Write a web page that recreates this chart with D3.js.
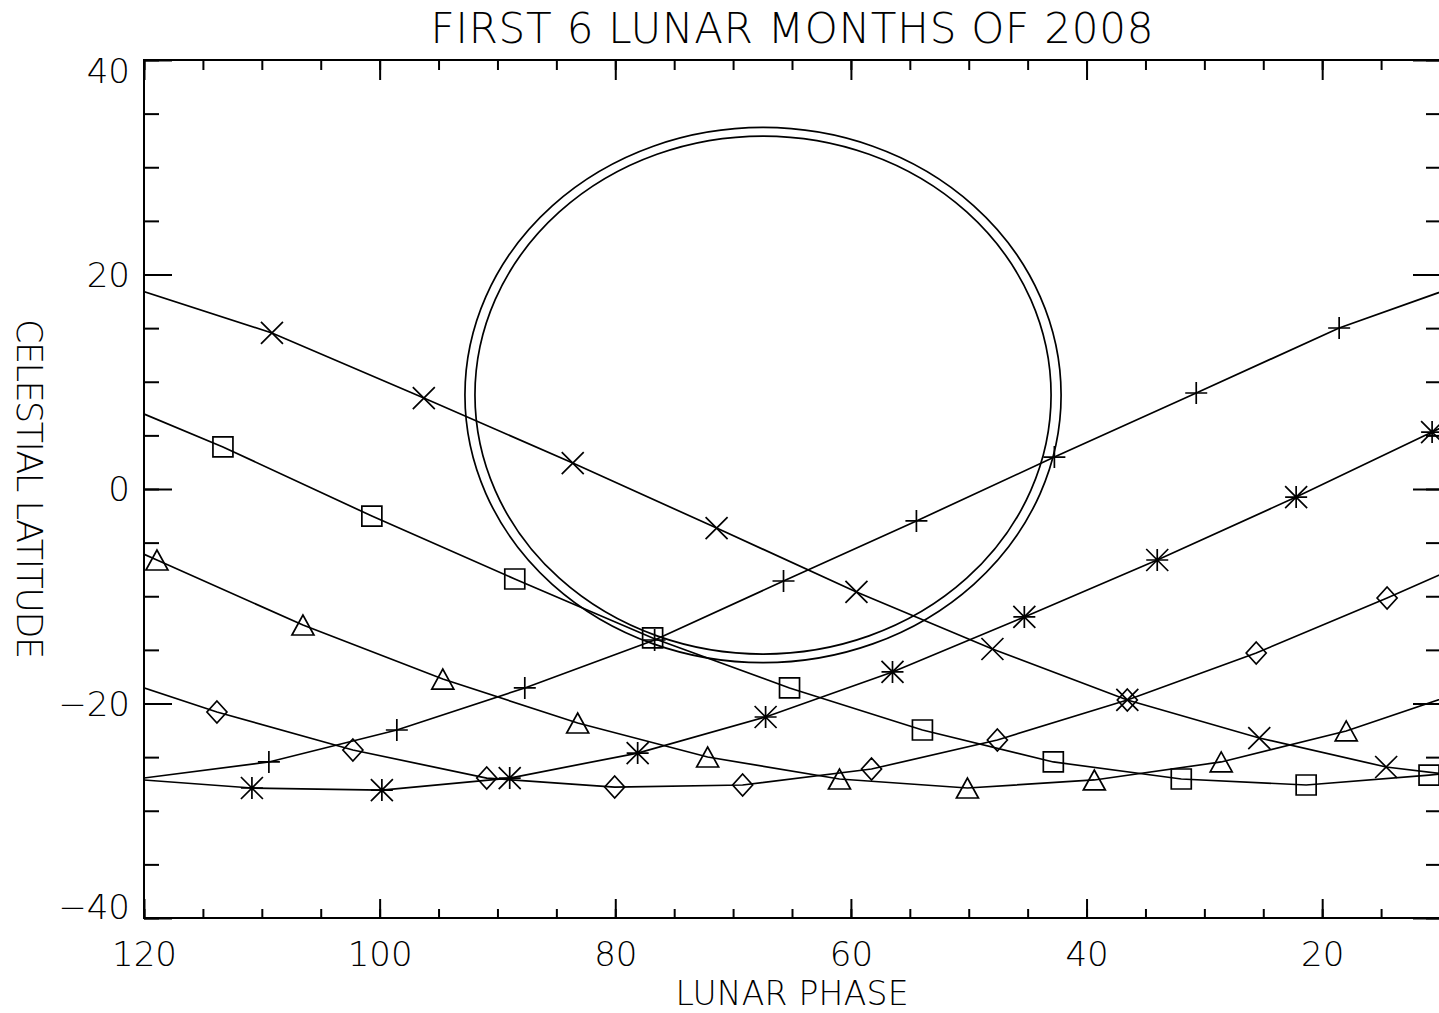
<!DOCTYPE html>
<html>
<head>
<meta charset="utf-8">
<script src="https://cdn.jsdelivr.net/npm/d3@7"></script>
<style>
  body { margin: 0; background: #fff; }
  svg text { font-family: "DejaVu Sans", sans-serif; font-weight: 200; fill: #000; }
</style>
</head>
<body>
<svg id="lunarPlot" width="1439" height="1013"></svg>
<script>
// six lunar months, one marker symbol each
// first and last points of each month fall just outside the axis range
const phaseTimes = [122.1, 109.14, 96.25, 83.61, 71.4, 59.53, 47.99, 36.54, 25.34, 14.57, 2.5];
const latTimes   = [19.14, 14.55, 8.48, 2.42, -3.64, -9.6, -14.92, -19.67, -23.22, -25.92, -27.53];

const phasePlus = [121.5, 109.4, 98.54, 87.68, 76.66, 65.72, 54.44, 42.73, 30.69, 18.56, 6.4];
const latPlus   = [-27.16, -25.45, -22.47, -18.55, -14.08, -8.58, -2.98, 2.98, 8.95, 15.01, 19.76];

const phaseAsterisk = [122, 110.84, 99.81, 88.96, 78.1, 67.24, 56.47, 45.28, 34.0, 22.21, 10.67, -0.8];
const latAsterisk   = [-26.97, -27.88, -28.07, -26.95, -24.62, -21.26, -17.06, -11.93, -6.62, -0.75, 5.31, 11.33];

const phaseDiamond = [125.3, 113.81, 102.27, 90.91, 80.05, 69.19, 58.25, 47.57, 36.54, 25.6, 14.49, 3];
const latDiamond   = [-16.63, -20.79, -24.34, -26.95, -27.79, -27.6, -26.11, -23.4, -19.67, -15.29, -10.16, -4.6];

const phaseTriangle = [131, 118.9, 106.51, 94.64, 83.19, 72.16, 60.97, 50.11, 39.34, 28.57, 17.96, 6];
const latTriangle   = [-0.7, -6.62, -12.68, -17.72, -21.82, -24.99, -27.04, -27.88, -27.13, -25.45, -22.56, -18.11];

const phaseSquare = [126, 113.3, 100.66, 88.53, 76.83, 65.21, 53.93, 42.82, 31.96, 21.36, 10.93, 0.5];
const latSquare   = [9.74, 3.92, -2.52, -8.39, -13.89, -18.55, -22.47, -25.45, -27.04, -27.6, -26.67, -25.74];

// double ring: centre and radii in data units
const ringCenter = [67.46, 8.76];
const ringRadiusPhase = [25.3, 24.45];
const ringRadiusLat = [24.95, 24.15];

const xMajorTicks = [120, 100, 80, 60, 40, 20];
const xMinorTicks = d3.range(120, 9, -5);
const yMajorTicks = [-40, -20, 0, 20, 40];
const yMinorTicks = d3.range(-40, 41, 5);

const titleText = "FIRST 6 LUNAR MONTHS OF 2008";
const xTitleText = "LUNAR PHASE";
const yTitleText = "CELESTIAL LATITUDE";

const svg = d3.select("#lunarPlot");
const width = +svg.attr("width");
const height = +svg.attr("height");

svg.append("rect").attr("width", width).attr("height", height).attr("fill", "#fff");

const plotLeft = 144, plotRight = 1440, plotTop = 60, plotBottom = 918;

const x = d3.scaleLinear().domain([120, 10]).range([plotLeft, plotRight]);
const y = d3.scaleLinear().domain([-40, 40]).range([plotBottom, plotTop]);

svg.append("clipPath").attr("id", "plotClip")
  .append("rect")
  .attr("x", plotLeft).attr("y", plotTop)
  .attr("width", plotRight - plotLeft).attr("height", plotBottom - plotTop);

// marker outlines, IDL style
const s = 11;
const symbols = {
  plus: `M${-s},0H${s}M0,${-s}V${s}`,
  asterisk: `M${-s},0H${s}M0,${-s}V${s}M${-s},${-s}L${s},${s}M${-s},${s}L${s},${-s}`,
  diamond: `M0,${-s}L${s - 1},0L0,${s}L${-s + 1},0Z`,
  triangle: `M${-s},${s - 1}L0,${-s + 1}L${s},${s - 1}Z`,
  square: `M${-s + 1},${-s + 1}H${s - 1}V${s - 1}H${-s + 1}Z`,
  times: `M${-s},${-s}L${s},${s}M${-s},${s}L${s},${-s}`
};

const months = [
  {sym: "times", phase: phaseTimes, lat: latTimes},
  {sym: "plus", phase: phasePlus, lat: latPlus},
  {sym: "asterisk", phase: phaseAsterisk, lat: latAsterisk},
  {sym: "diamond", phase: phaseDiamond, lat: latDiamond},
  {sym: "triangle", phase: phaseTriangle, lat: latTriangle},
  {sym: "square", phase: phaseSquare, lat: latSquare}
];

const plot = svg.append("g").attr("clip-path", "url(#plotClip)");

const line = d3.line()
  .x(d => x(d[0]))
  .y(d => y(d[1]));

months.forEach(m => {
  const pts = m.phase.map((p, i) => [p, m.lat[i]]);
  plot.append("path")
    .datum(pts)
    .attr("fill", "none")
    .attr("stroke", "#000")
    .attr("stroke-width", 1.7)
    .attr("d", line);
  plot.selectAll(null)
    .data(pts)
    .join("path")
    .attr("transform", d => `translate(${x(d[0])},${y(d[1])})`)
    .attr("d", symbols[m.sym])
    .attr("fill", "none")
    .attr("stroke", "#000")
    .attr("stroke-width", 1.7);
});

ringRadiusPhase.forEach((r, i) => {
  plot.append("ellipse")
    .attr("cx", x(ringCenter[0]))
    .attr("cy", y(ringCenter[1]))
    .attr("rx", Math.abs(x(ringCenter[0] + r) - x(ringCenter[0])))
    .attr("ry", Math.abs(y(ringCenter[1] + ringRadiusLat[i]) - y(ringCenter[1])))
    .attr("fill", "none")
    .attr("stroke", "#000")
    .attr("stroke-width", 1.7);
});

// frame
svg.append("rect")
  .attr("x", plotLeft).attr("y", plotTop)
  .attr("width", plotRight - plotLeft).attr("height", plotBottom - plotTop)
  .attr("fill", "none").attr("stroke", "#000").attr("stroke-width", 2);

const tidy = g => {
  g.select(".domain").remove();
  g.selectAll("line").attr("stroke", "#000").attr("stroke-width", 2);
  g.selectAll("text").attr("font-size", 34).attr("font-family", null);
};

// bottom / top x ticks (pointing inward)
svg.append("g").attr("transform", `translate(0,${plotBottom})`)
  .call(d3.axisBottom(x).tickValues(xMinorTicks).tickSize(-9).tickFormat(""))
  .call(tidy);
svg.append("g").attr("transform", `translate(0,${plotBottom})`)
  .call(d3.axisBottom(x).tickValues(xMajorTicks).tickSize(-19).tickPadding(24).tickFormat(d3.format("d")))
  .call(tidy);
svg.append("g").attr("transform", `translate(0,${plotTop})`)
  .call(d3.axisTop(x).tickValues(xMinorTicks).tickSize(-10).tickFormat(""))
  .call(tidy);
svg.append("g").attr("transform", `translate(0,${plotTop})`)
  .call(d3.axisTop(x).tickValues(xMajorTicks).tickSize(-20).tickFormat(""))
  .call(tidy);

// left / right y ticks
svg.append("g").attr("transform", `translate(${plotLeft},0)`)
  .call(d3.axisLeft(y).tickValues(yMinorTicks).tickSize(-15).tickFormat(""))
  .call(tidy);
const yAxisG = svg.append("g").attr("transform", `translate(${plotLeft},0)`)
  .call(d3.axisLeft(y).tickValues(yMajorTicks).tickSize(-28).tickPadding(14).tickFormat(d => d < 0 ? "\u2212" + Math.abs(d) : d))
  .call(tidy);
// end labels sit inside the axis range, like IDL
yAxisG.selectAll(".tick text")
  .attr("dy", d => d === 40 ? "0.67em" : d === -40 ? "0em" : "0.34em");

svg.append("g").attr("transform", `translate(${plotRight},0)`)
  .call(d3.axisRight(y).tickValues(yMinorTicks).tickSize(-14).tickFormat(""))
  .call(tidy);
svg.append("g").attr("transform", `translate(${plotRight},0)`)
  .call(d3.axisRight(y).tickValues(yMajorTicks).tickSize(-27).tickFormat(""))
  .call(tidy);

// titles
svg.append("text")
  .attr("x", (plotLeft + plotRight) / 2).attr("y", 43)
  .attr("text-anchor", "middle")
  .attr("font-size", 42)
  .attr("textLength", 723)
  .text(titleText);

svg.append("text")
  .attr("x", (plotLeft + plotRight) / 2).attr("y", 1005)
  .attr("text-anchor", "middle")
  .attr("font-size", 33)
  .attr("textLength", 233)
  .text(xTitleText);

svg.append("text")
  .attr("transform", `translate(17,${(plotTop + plotBottom) / 2}) rotate(90)`)
  .attr("text-anchor", "middle")
  .attr("font-size", 35)
  .attr("textLength", 340)
  .text(yTitleText);
</script>
</body>
</html>
